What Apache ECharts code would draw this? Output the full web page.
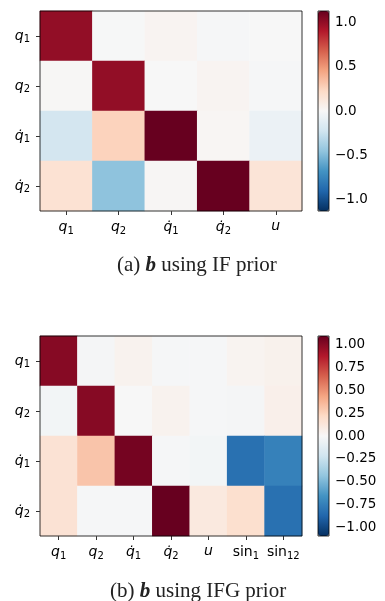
<!DOCTYPE html>
<html>
<head>
<meta charset="utf-8">
<script src="https://cdn.jsdelivr.net/npm/echarts@6/dist/echarts.min.js"></script>
<style>
  html, body { margin: 0; padding: 0; background: #fff; }
  #main { width: 385px; height: 601px; }
</style>
</head>
<body>
<div id="main"></div>
<script>
// labels: base_sub, dotted q uses a combining dot
const rowsA = ['q_1', 'q_2', 'q\u0307_1', 'q\u0307_2'];
const colsA = ['q_1', 'q_2', 'q\u0307_1', 'q\u0307_2', 'u'];
const valsA = [
  [1.00, -0.005, 0.03, -0.01, 0.00],
  [0.01, 1.00, 0.00, 0.03, -0.01],
  [-0.21, 0.26, 1.13, 0.02, -0.07],
  [0.17, -0.46, 0.015, 1.13, 0.15]
];

const rowsB = ['q_1', 'q_2', 'q\u0307_1', 'q\u0307_2'];
const colsB = ['q_1', 'q_2', 'q\u0307_1', 'q\u0307_2', 'u', 'sin_1', 'sin_12'];
const valsB = [
  [1.00, -0.02, 0.04, -0.01, -0.01, 0.03, 0.05],
  [-0.03, 1.00, 0.00, 0.04, -0.01, -0.02, 0.06],
  [0.16, 0.31, 1.05, -0.01, -0.03, -0.82, -0.74],
  [0.16, -0.01, -0.01, 1.09, 0.11, 0.18, -0.82]
];

const rangeA = 1.13, rangeB = 1.09;
const ticksA = [-1, -0.5, 0, 0.5, 1];
const ticksB = [-1, -0.75, -0.5, -0.25, 0, 0.25, 0.5, 0.75, 1];

// RdBu_r
const rdbu = ['#053061', '#2166ac', '#4393c3', '#92c5de', '#d1e5f0', '#f7f7f7',
              '#fddbc7', '#f4a582', '#d6604d', '#b2182b', '#67001f'];

const FONT = 'DejaVu Sans';

function toCells(vals) {
  let out = [];
  for (let r = 0; r < vals.length; r++)
    for (let c = 0; c < vals[r].length; c++)
      out.push([c, r, vals[r][c]]);
  return out;
}

function mathLabel(v) {
  let p = v.split('_');
  let base = p[0].indexOf('sin') === 0 ? '{r|' + p[0] + '}' : '{i|' + p[0] + '}';
  return p.length > 1 ? base + '{s|' + p[1] + '}' : base;
}

const rich = {
  i: { fontFamily: FONT, fontStyle: 'italic', fontSize: 14, color: '#000' },
  r: { fontFamily: FONT, fontSize: 14, color: '#000' },
  s: { fontFamily: FONT, fontSize: 10, color: '#000', padding: [7, 0, 0, 0] }
};

function fmt(d) {
  return function (v) {
    let s = Math.abs(v).toFixed(d);
    return v < 0 ? '\u2212' + s : s;
  };
}

function heatAxes(gi, cats, isY) {
  return {
    type: 'category', gridIndex: gi, data: cats, inverse: isY,
    position: isY ? 'left' : 'bottom',
    axisLine: { show: false },
    axisTick: { show: true, length: 4, alignWithLabel: true, interval: 0, lineStyle: { color: '#000', width: 0.8 } },
    axisLabel: { formatter: mathLabel, rich: rich, interval: 0, margin: isY ? 10 : 8 },
    splitLine: { show: false }, splitArea: { show: false }
  };
}

function barAxis(gi, range, ticks, d) {
  return {
    type: 'value', gridIndex: gi, position: 'right', min: -range, max: range,
    axisLine: { show: false },
    splitLine: { show: false },
    axisTick: { show: true, length: 4, customValues: ticks, lineStyle: { color: '#000', width: 0.8 } },
    axisLabel: { customValues: ticks, formatter: fmt(d), fontFamily: FONT, fontSize: 13.5, color: '#000', margin: 6 }
  };
}

const frame = { show: true, borderColor: '#000', borderWidth: 0.8, backgroundColor: 'transparent', z: 10 };

const capStyle = {
  fontFamily: 'Liberation Serif', fontSize: 21, fontWeight: 'normal', color: '#222',
  rich: { b: { fontFamily: 'Liberation Serif', fontSize: 21, fontWeight: 'bold', fontStyle: 'italic', color: '#222' } }
};

const chart = echarts.init(document.getElementById('main'), null, { renderer: 'canvas' });

chart.setOption({
  animation: false,
  title: [
    { text: '(a) {b|b} using IF prior', left: 117, top: 255, padding: 0, textStyle: capStyle },
    { text: '(b) {b|b} using IFG prior', left: 110, top: 581, padding: 0, textStyle: capStyle }
  ],
  grid: [
    Object.assign({ left: 40, top: 11, width: 262, height: 200 }, frame),
    Object.assign({ left: 318, top: 11, width: 11, height: 200 }, frame),
    Object.assign({ left: 40, top: 336, width: 262, height: 200 }, frame),
    Object.assign({ left: 318, top: 336, width: 11, height: 200 }, frame)
  ],
  xAxis: [
    heatAxes(0, colsA, false),
    { type: 'value', gridIndex: 1, show: false },
    heatAxes(2, colsB, false),
    { type: 'value', gridIndex: 3, show: false }
  ],
  yAxis: [
    heatAxes(0, rowsA, true),
    barAxis(1, rangeA, ticksA, 1),
    heatAxes(2, rowsB, true),
    barAxis(3, rangeB, ticksB, 2)
  ],
  visualMap: [
    { type: 'continuous', seriesIndex: 0, min: -rangeA, max: rangeA, calculable: false,
      left: 318, top: 11, itemWidth: 11, itemHeight: 200, padding: 0, text: null,
      inRange: { color: rdbu } },
    { type: 'continuous', seriesIndex: 1, min: -rangeB, max: rangeB, calculable: false,
      left: 318, top: 336, itemWidth: 11, itemHeight: 200, padding: 0, text: null,
      inRange: { color: rdbu } }
  ],
  series: [
    { type: 'heatmap', xAxisIndex: 0, yAxisIndex: 0, data: toCells(valsA), emphasis: { disabled: true } },
    { type: 'heatmap', xAxisIndex: 2, yAxisIndex: 2, data: toCells(valsB), emphasis: { disabled: true } }
  ]
});
</script>
</body>
</html>
